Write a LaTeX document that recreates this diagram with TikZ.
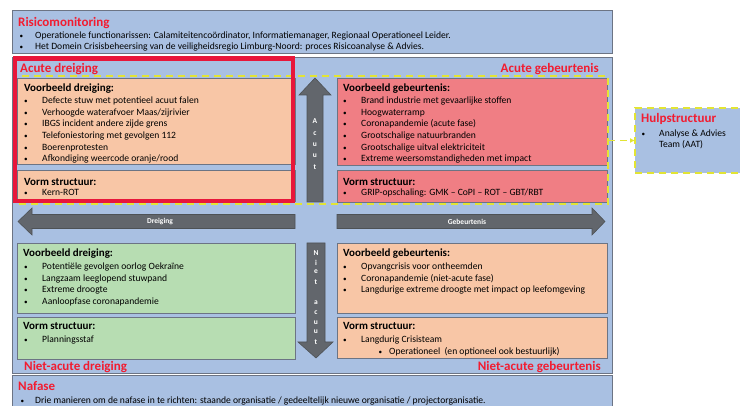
\documentclass[tikz,border=0pt]{standalone}
\usepackage{fontspec}
\setmainfont{Carlito}
\usetikzlibrary{arrows.meta}

\definecolor{panelblue}{RGB}{169,192,226}
\definecolor{peach}{RGB}{248,198,166}
\definecolor{rose}{RGB}{240,126,132}
\definecolor{mint}{RGB}{183,221,178}
\definecolor{arrowgray}{RGB}{98,102,108}
\definecolor{edgegray}{RGB}{108,116,132}
\definecolor{alertred}{RGB}{242,28,48}
\definecolor{framered}{RGB}{232,22,58}
\definecolor{dashyellow}{RGB}{226,228,52}

% small bullet followed by its text, the text starting at a fixed indent
\newcommand\bul[2][18.5pt]{\makebox[#1][l]{\hspace{0.5pt}\scalebox{0.75}{\textbullet}}#2}

\tikzset{
  x=1pt, y=-1pt,
  panel/.style={draw=edgegray, line width=0.9pt, fill=panelblue, anchor=north west,
                inner sep=0pt, outer sep=0pt},
  card/.style={draw=edgegray, line width=0.7pt, anchor=north west, inner sep=0pt, outer sep=0pt},
  yellowdash/.style={draw=dashyellow, line width=1.8pt, dash pattern=on 7pt off 5pt},
  bigarrow/.style={fill=arrowgray, draw=arrowgray!80!black, line width=0.6pt},
  titletxt/.style={text=alertred, font=\fontsize{13}{15}\selectfont\bfseries, inner sep=0pt, anchor=base west},
  headtxt/.style={font=\fontsize{11}{13}\selectfont\bfseries, inner sep=0pt, anchor=base west},
  itemtxt/.style={font=\fontsize{9.6}{11}\selectfont, inner sep=0pt, anchor=base west},
  arrowtxt/.style={text=white, font=\fontsize{7.5}{9}\selectfont\bfseries, inner sep=0pt},
}

\begin{document}
\begin{tikzpicture}
\useasboundingbox (0,0) rectangle (740,406);
\clip (0,0) rectangle (740,406);
\fill[white] (0,0) rectangle (740,406);

% ---------- outer panels ----------
\node[panel, minimum width=600pt, minimum height=43pt] (risk) at (12,10) {};
\node[panel, minimum width=600pt, minimum height=316pt] (mainpanel) at (12,57) {};
\node[panel, minimum width=600pt, minimum height=45pt] (nafase) at (12,375) {};

% ---------- quadrant cards ----------
\node[card, fill=peach, minimum width=278pt, minimum height=86pt] (adex) at (17,78) {};
\node[card, fill=peach, minimum width=278pt, minimum height=31pt] (adform) at (17,170) {};
\node[card, fill=rose, minimum width=270pt, minimum height=87pt] (agex) at (337,78) {};
\node[card, fill=rose, minimum width=270pt, minimum height=32pt] (agform) at (337,170) {};
\node[card, fill=mint, minimum width=278pt, minimum height=70pt] (ndex) at (17,243) {};
\node[card, fill=mint, minimum width=278pt, minimum height=42pt] (ndform) at (17,317) {};
\node[card, fill=peach, minimum width=270pt, minimum height=70pt] (ngex) at (337,243) {};
\node[card, fill=peach, minimum width=270pt, minimum height=41pt] (ngform) at (337,317) {};

% ---------- acute zone outline and auxiliary structure ----------
\draw[yellowdash] (15,76) rectangle (608,204);
\node[panel, draw=none, minimum width=115pt, minimum height=65pt] (hulp) at (635,108) {};
\draw[yellowdash] (hulp.south east) -- (hulp.south west) -- (hulp.north west) -- (hulp.north east);
\coordinate (zoneedge) at (608,140.5);
\draw[yellowdash, -{Latex[length=5pt,width=5pt]}] (zoneedge) -- (hulp.west);
\draw[framered, line width=4.5pt] (15,58.5) rectangle (293,201);

% ---------- axis arrows ----------
\draw[bigarrow] (18,221.5) -- (32,208) -- (32,214.5) -- (295,214.5) -- (295,228.5)
  -- (32,228.5) -- (32,235) -- cycle;
\draw[bigarrow] (337,214.5) -- (592,214.5) -- (592,208) -- (605,221.5) -- (592,235)
  -- (592,228.5) -- (337,228.5) -- cycle;
\draw[bigarrow] (315,78) -- (331,95) -- (323,95) -- (323,202) -- (307,202) -- (307,95)
  -- (299,95) -- cycle;
\draw[bigarrow] (307,243) -- (325,243) -- (325,342) -- (333,342) -- (316,358)
  -- (298,342) -- (307,342) -- cycle;
\node[arrowtxt] (dreiging) at (160,221.5) {Dreiging};
\node[arrowtxt] (gebeurtenis) at (467,221.5) {Gebeurtenis};
\foreach \ch/\yy in {A/121,c/134,u/145,u/156,t/167}
  \node[arrowtxt] (acuut-\yy) at (315,\yy) {\ch};
\foreach \ch/\yy in {N/253,i/263,e/272,t/282,a/303,c/313,u/323,u/332,t/342}
  \node[arrowtxt] (nietacuut-\yy) at (316,\yy) {\ch};

% ---------- Risicomonitoring ----------
\node[titletxt] (risktitle) at (18,27) {Risicomonitoring};
\node[itemtxt] (risk1) at (19,38.5) {\bul[16pt]{Operationele functionarissen: Calamiteitencoördinator, Informatiemanager, Regionaal Operationeel Leider.}};
\node[itemtxt] (risk2) at (19,50) {\bul[16pt]{Het Domein Crisisbeheersing van de veiligheidsregio Limburg-Noord: proces Risicoanalyse \& Advies.}};

% ---------- Acute dreiging ----------
\node[titletxt] (adtitle) at (20,73) {Acute dreiging};
\node[headtxt] (adexhead) at (24,92) {Voorbeeld dreiging:};
\foreach \t [count=\i] in {Defecte stuw met potentieel acuut falen,
    {Verhoogde waterafvoer Maas/zijrivier},
    IBGS incident andere zijde grens,
    Telefoniestoring met gevolgen 112,
    Boerenprotesten,
    {Afkondiging weercode oranje/rood}}
  \node[itemtxt] (aditem\i) at (23.5,{103.5+11.7*(\i-1)}) {\bul{\t}};
\node[headtxt] (adformhead) at (24,186) {Vorm structuur:};
\node[itemtxt] (adform1) at (23.5,196) {\bul{Kern-ROT}};

% ---------- Acute gebeurtenis ----------
\node[titletxt, anchor=base east] (agtitle) at (599,73) {Acute gebeurtenis};
\node[headtxt] (agexhead) at (343,92) {Voorbeeld gebeurtenis:};
\foreach \t [count=\i] in {Brand industrie met gevaarlijke stoffen,
    Hoogwaterramp,
    Coronapandemie (acute fase),
    Grootschalige natuurbranden,
    Grootschalige uitval elektriciteit,
    Extreme weersomstandigheden met impact}
  \node[itemtxt] (agitem\i) at (342.5,{103.5+11.7*(\i-1)}) {\bul{\t}};
\node[headtxt] (agformhead) at (343,186) {Vorm structuur:};
\node[itemtxt] (agform1) at (342.5,196) {\bul{GRIP-opschaling: GMK -- CoPI -- ROT -- GBT/RBT}};

% ---------- Hulpstructuur ----------
\node[titletxt] (hulptitle) at (641,123) {Hulpstructuur};
\node[itemtxt] (hulp1) at (641,136.5) {\bul[18pt]{Analyse \& Advies}};
\node[itemtxt] (hulp2) at (659,147.5) {Team (AAT)};

% ---------- Niet-acute dreiging ----------
\node[headtxt] (ndexhead) at (23,257) {Voorbeeld dreiging:};
\foreach \t [count=\i] in {Potentiële gevolgen oorlog Oekraïne,
    Langzaam leeglopend stuwpand,
    Extreme droogte,
    Aanloopfase coronapandemie}
  \node[itemtxt] (nditem\i) at (23.5,{269.5+11.7*(\i-1)}) {\bul{\t}};
\node[headtxt] (ndformhead) at (23,330) {Vorm structuur:};
\node[itemtxt] (ndform1) at (23.5,342.5) {\bul{Planningsstaf}};
\node[titletxt] (ndtitle) at (24,371) {Niet-acute dreiging};

% ---------- Niet-acute gebeurtenis ----------
\node[headtxt] (ngexhead) at (343,257) {Voorbeeld gebeurtenis:};
\foreach \t [count=\i] in {Opvangcrisis voor ontheemden,
    Coronapandemie (niet-acute fase),
    Langdurige extreme droogte met impact op leefomgeving}
  \node[itemtxt] (ngitem\i) at (342.5,{269.5+11.7*(\i-1)}) {\bul{\t}};
\node[headtxt] (ngformhead) at (343,330) {Vorm structuur:};
\node[itemtxt] (ngform1) at (342.5,342.5) {\bul{Langdurig Crisisteam}};
\node[itemtxt] (ngform2) at (378,354.5) {\bul[11pt]{Operationeel\ \ (en optioneel ook bestuurlijk)}};
\node[titletxt, anchor=base east] (ngtitle) at (601,371) {Niet-acute gebeurtenis};

% ---------- Nafase ----------
\node[titletxt] (nafasetitle) at (18,391) {Nafase};
\node[itemtxt] (nafase1) at (20,403.5) {\bul[15pt]{Drie manieren om de nafase in te richten: staande organisatie / gedeeltelijk nieuwe organisatie / projectorganisatie.}};
\end{tikzpicture}
\end{document}
